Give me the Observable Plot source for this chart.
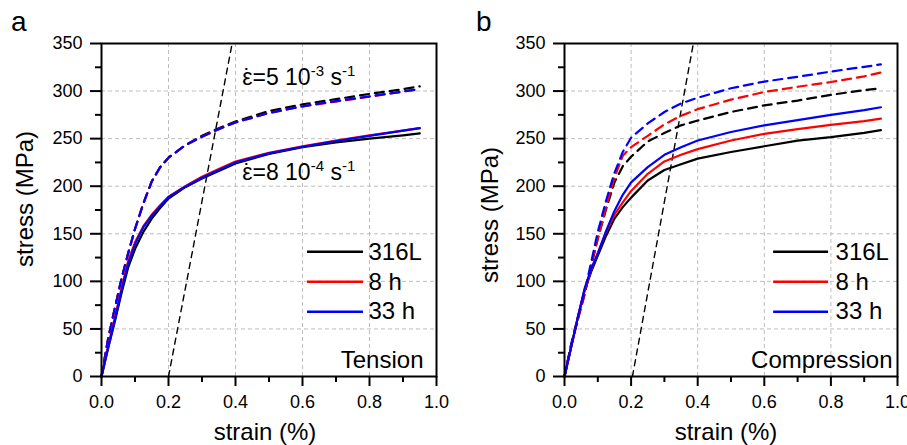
<!DOCTYPE html>
<html><head><meta charset="utf-8">
<script src="https://cdn.jsdelivr.net/npm/d3@7"></script>
<script src="https://cdn.jsdelivr.net/npm/@observablehq/plot@0.6"></script>
<style>
body{margin:0;background:#fff;width:907px;height:445px;overflow:hidden;font-family:"Liberation Sans",Arial,sans-serif;position:relative;}
#pa,#pb{position:absolute;top:0;}
#pa{left:0}
#pb{left:460px}
.letter{position:absolute;font-size:28px;line-height:1;color:#000;}
</style></head><body>
<div id="pa"></div><div id="pb"></div>
<div class="letter" style="left:11px;top:8px">a</div>
<div class="letter" style="left:476px;top:8px">b</div>
<script>
// ---- data ----
const strain = [0, 0.02, 0.04, 0.06, 0.08, 0.1, 0.125, 0.15, 0.175, 0.2, 0.25, 0.3, 0.35, 0.4, 0.5, 0.6, 0.7, 0.8, 0.9, 0.95];
const seriesNames = ["316L", "8 h", "33 h"];
const seriesColors = ["#000000", "#ff0000", "#0000ff"];

// Tension, slow rate (solid)
const tension316LSlow = [0, 30, 58, 88, 115, 134, 152, 166, 177, 187, 199, 208, 216, 224, 234, 241, 246, 250, 253.5, 255.5];
const tension8hSlow   = [0, 32, 62, 93, 122, 141, 158, 170, 180, 189, 200, 210, 218, 226, 235, 242, 248, 253.5, 258.5, 261];
const tension33hSlow  = [0, 31, 60, 91, 119, 139, 157, 169, 179, 188.5, 199.5, 209, 217, 225, 234.5, 241.5, 247.5, 253, 258.5, 261];
// Tension, fast rate (dashed)
const tension316LFast = [0, 40, 72, 103, 130, 155, 182, 205, 220, 230, 243, 253, 261, 268, 279, 286, 291.5, 297, 302, 305];
const tension8hFast   = [0, 40, 72, 103, 130, 155, 182, 205, 220, 230, 243, 252, 260, 267, 277, 284, 289, 294, 299.5, 302];
const tension33hFast  = [0, 40, 72, 103, 130, 155, 182, 205, 220, 230, 243, 252, 260, 267, 277, 284, 289.5, 294.5, 299.5, 302];

// Compression, slow rate (solid)
const compression316LSlow = [0, 31, 62, 90, 110, 127, 148, 166, 178, 188, 206, 217, 223, 229, 236, 242, 248, 251.5, 256, 259];
const compression8hSlow   = [0, 31, 62, 90, 112, 130, 152, 170, 183, 195, 213, 226, 233, 239, 248, 255, 260, 264.5, 268.5, 271];
const compression33hSlow  = [0, 31, 62, 92, 113, 129, 153, 174, 191, 204, 220, 233, 241, 248, 257, 264, 269.5, 275, 280, 283];
// Compression, fast rate (dashed)
const compression316LFast = [0, 33, 60, 86, 116, 145, 176, 204, 221, 231, 247, 256, 264, 269, 278, 285, 290, 296, 301, 303];
const compression8hFast   = [0, 33, 60, 86, 117, 145, 178, 209, 232, 241, 253, 265, 274, 281, 291, 299, 304.5, 309.5, 315.5, 319.5];
const compression33hFast  = [0, 34, 62, 88, 120, 152, 185, 214, 236, 251, 266, 278, 287, 293, 303, 310, 315, 320.5, 325.5, 328];

// 0.2 % offset lines
const offsetStrainA = [0.2, 0.39];
const offsetStrainB = [0.204, 0.387];
const offsetStress = [0, 350];

const xTicks = [0, 0.2, 0.4, 0.6, 0.8, 1.0];
const xMinorTicks = [0.1, 0.3, 0.5, 0.7, 0.9];
const yTicks = [0, 50, 100, 150, 200, 250, 300, 350];
const yMinorTicks = [25, 75, 125, 175, 225, 275, 325];

const rateFast = "ε\u0307=5 10^-3 s^-1";
const rateSlow = "ε\u0307=8 10^-4 s^-1";

// ---- helpers ----
const toPts = arr => strain.map((s, i) => ({s, v: arr[i]}));
const FONT = '"Liberation Sans", Arial, sans-serif';

function panel({width, ml, mr, slow, fast, offsetStrain, legendX1, legendX2, legendTX, modeText, modeDx, yLabDx, yLabDy, xLabDx, annotate}) {
  const marks = [
    Plot.gridX([0.2, 0.4, 0.6, 0.8], {stroke: "#bdbdbd", strokeOpacity: 1, strokeWidth: 1, strokeDasharray: "4,3"}),
    Plot.gridY([50, 100, 150, 200, 250, 300], {stroke: "#bdbdbd", strokeOpacity: 1, strokeWidth: 1, strokeDasharray: "4,3"}),
    Plot.line(offsetStrain.map((s, i) => ({s, v: offsetStress[i]})), {x: "s", y: "v", stroke: "#000", strokeWidth: 1.4, strokeDasharray: "6,5"})
  ];
  fast.forEach((arr, i) => marks.push(Plot.line(toPts(arr), {x: "s", y: "v", stroke: seriesColors[i], strokeWidth: 2.2, strokeDasharray: "9,6"})));
  slow.forEach((arr, i) => marks.push(Plot.line(toPts(arr), {x: "s", y: "v", stroke: seriesColors[i], strokeWidth: 2.2})));
  const legendRows = seriesNames.map((n, i) => ({name: n, color: seriesColors[i], v: 131 - 31.5 * i}));
  marks.push(
    Plot.ruleY(legendRows, {y: "v", x1: legendX1, x2: legendX2, stroke: "color", strokeWidth: 2.5}),
    Plot.text(legendRows, {x: legendTX, y: "v", text: "name", textAnchor: "start", lineAnchor: "middle", fontSize: 24, fill: "#000"}),
    Plot.text([modeText], {frameAnchor: "bottom-right", textAnchor: "end", dx: modeDx, dy: -9, lineAnchor: "bottom", fontSize: 24, fill: "#000"}),
    Plot.text(["strain (%)"], {frameAnchor: "bottom", textAnchor: "middle", dx: xLabDx, dy: 63, lineAnchor: "bottom", fontSize: 24, fill: "#000"}),
    Plot.text(["stress (MPa)"], {frameAnchor: "left", textAnchor: "middle", dx: yLabDx, dy: yLabDy, rotate: -90, lineAnchor: "middle", fontSize: 24, fill: "#000"}),
    Plot.axisX(xTicks, {tickSize: 10, tickPadding: 9, strokeWidth: 2, tickFormat: d3.format(".1f"), label: null, fontSize: 18}),
    Plot.axisX(xMinorTicks, {tickSize: 6, strokeWidth: 2, tickFormat: () => "", label: null}),
    Plot.axisY(yTicks, {tickSize: 11, tickPadding: 8, strokeWidth: 2, label: null, fontSize: 18}),
    Plot.axisY(yMinorTicks, {tickSize: 6, strokeWidth: 2, tickFormat: () => "", label: null}),
    Plot.frame({stroke: "#000", strokeWidth: 2})
  );
  if (annotate) {
    marks.push(Plot.text([{s: 0.42, v: 306.5, t: rateFast}, {s: 0.42, v: 206.5, t: rateSlow}],
      {x: "s", y: "v", text: "t", textAnchor: "start", lineAnchor: "bottom", fontSize: 23, fill: "#000"}));
  }
  return Plot.plot({
    width, height: 445,
    marginLeft: ml, marginRight: mr, marginTop: 43, marginBottom: 69,
    x: {domain: [0, 1], axis: null},
    y: {domain: [0, 350], axis: null},
    style: {fontFamily: FONT, fontSize: "18px", color: "#000", background: "white", overflow: "visible"},
    marks
  });
}

// Turn "^-3" into raised tspans and draw the rate dot above the epsilon
function superscripts(svg) {
  const NS = "http://www.w3.org/2000/svg";
  svg.querySelectorAll("text").forEach(t => {
    const s = t.textContent;
    if (!s.includes("^")) return;
    const parts = s.split(/\^(-?\d+)/);
    t.textContent = "";
    parts.forEach((p, i) => {
      if (i === 0 && p.startsWith("ε\u0307")) {
        const eps = document.createElementNS(NS, "tspan");
        eps.textContent = "ε";
        t.appendChild(eps);
        const w = eps.getComputedTextLength();
        const dot = document.createElementNS(NS, "tspan");
        dot.textContent = "\u02D9";
        t.appendChild(dot);
        const dw = dot.getComputedTextLength();
        dot.setAttribute("dx", String(-(w + dw) / 2));
        const rest = document.createElementNS(NS, "tspan");
        rest.textContent = p.slice(2);
        rest.setAttribute("dx", String((w - dw) / 2));
        t.appendChild(rest);
        return;
      }
      const ts = document.createElementNS(NS, "tspan");
      ts.textContent = p;
      if (i % 2 === 1) { ts.setAttribute("dy", "-9"); ts.setAttribute("font-size", "15"); }
      else if (i > 0) { ts.setAttribute("dy", "9"); }
      t.appendChild(ts);
    });
  });
}

const a = panel({
  width: 460, ml: 101, mr: 24,
  slow: [tension316LSlow, tension8hSlow, tension33hSlow],
  fast: [tension316LFast, tension8hFast, tension33hFast],
  offsetStrain: offsetStrainA,
  legendX1: 0.615, legendX2: 0.782, legendTX: 0.797,
  modeText: "Tension", modeDx: -13,
  yLabDx: -76, yLabDy: -11, xLabDx: -4, annotate: true
});
document.getElementById("pa").appendChild(a);
superscripts(a);

const b = panel({
  width: 447, ml: 104, mr: 10,
  slow: [compression316LSlow, compression8hSlow, compression33hSlow],
  fast: [compression316LFast, compression8hFast, compression33hFast],
  offsetStrain: offsetStrainB,
  legendX1: 0.628, legendX2: 0.793, legendTX: 0.814,
  modeText: "Compression", modeDx: -5,
  yLabDx: -74, yLabDy: 5, xLabDx: -5, annotate: false
});
document.getElementById("pb").appendChild(b);
</script>
</body></html>
